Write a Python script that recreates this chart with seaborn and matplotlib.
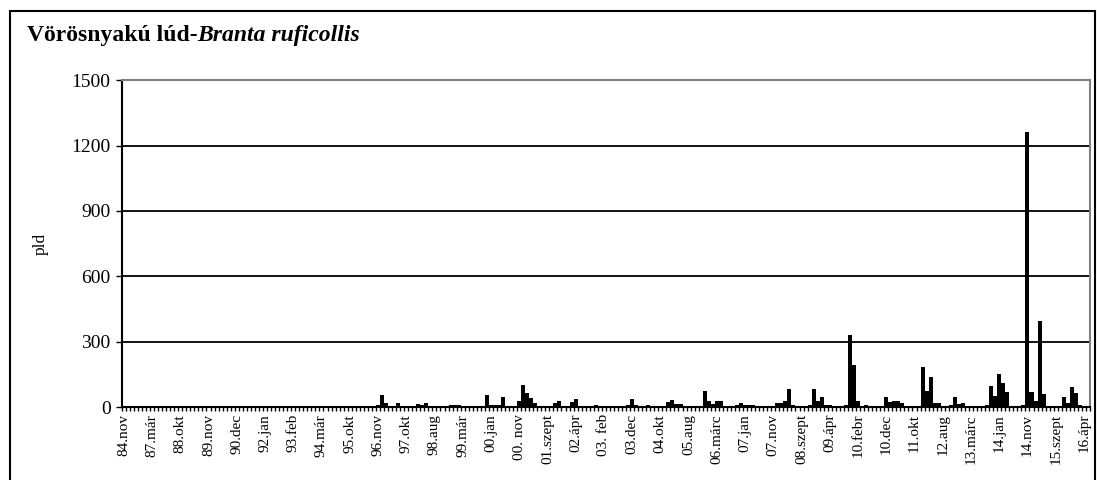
import matplotlib
matplotlib.use("Agg")
import matplotlib.pyplot as plt
from matplotlib.patches import Rectangle
import numpy as np
import pandas as pd
import seaborn as sns

# monthly counts (pld), one bar per survey month, 84.nov .. 16.ápr
counts = [
    0, 0, 0, 0, 0, 0, 0, 0, 0, 0, 0, 0, 0, 0, 0, 0, 0, 5, 0, 0,
    0, 0, 7, 7, 0, 0, 0, 0, 0, 7, 0, 0, 0, 7, 0, 0, 0, 0, 0, 0,
    0, 0, 0, 0, 0, 0, 0, 0, 0, 0, 0, 0, 0, 0, 0, 0, 0, 0, 0, 0,
    0, 0, 0, 10, 55, 20, 0, 0, 18, 0, 0, 0, 0, 15, 8, 18, 0, 0, 0, 0,
    0, 8, 8, 8, 0, 0, 0, 0, 0, 0, 55, 8, 8, 8, 45, 0, 0, 0, 28, 100,
    65, 40, 20, 0, 0, 0, 0, 18, 28, 0, 0, 25, 35, 0, 0, 0, 0, 8, 0, 0,
    0, 0, 0, 0, 0, 10, 38, 10, 0, 0, 8, 0, 0, 0, 0, 22, 33, 12, 12, 0,
    0, 0, 0, 0, 75, 30, 12, 28, 28, 0, 0, 0, 10, 20, 10, 10, 10, 0, 0, 0,
    0, 0, 18, 18, 28, 85, 10, 0, 0, 0, 10, 82, 28, 48, 10, 10, 0, 0, 0, 8,
    330, 195, 30, 0, 10, 0, 0, 0, 0, 48, 22, 28, 28, 20, 0, 0, 0, 0, 185, 75,
    140, 20, 20, 0, 0, 8, 48, 12, 18, 0, 0, 0, 0, 0, 8, 95, 50, 150, 112, 68,
    0, 0, 0, 8, 1260, 68, 30, 395, 58, 0, 0, 0, 0, 45, 20, 92, 66, 8, 0, 0,
]

# every 7th month gets a label
tick_labels = [
    "84.nov", "87.már", "88.okt", "89.nov", "90.dec", "92.jan", "93.feb",
    "94.már", "95.okt", "96.nov", "97.okt", "98.aug", "99.már", "00.jan",
    "00. nov", "01.szept", "02.ápr", "03. feb", "03.dec", "04.okt", "05.aug",
    "06.márc", "07.jan", "07.nov", "08.szept", "09.ápr", "10.febr", "10.dec",
    "11.okt", "12.aug", "13.márc", "14.jan", "14.nov", "15.szept", "16.ápr",
]
y_ticks = [0, 300, 600, 900, 1200, 1500]

sns.set_style("white")
plt.rcParams["font.family"] = ["Liberation Serif", "DejaVu Serif"]
plt.rcParams["text.color"] = "black"
plt.rcParams["axes.labelcolor"] = "black"
plt.rcParams["xtick.color"] = "black"
plt.rcParams["ytick.color"] = "black"

df = pd.DataFrame({"month": np.arange(len(counts)), "pld": counts})

fig = plt.figure(figsize=(10.97, 4.8), dpi=100)
ax = fig.add_axes([0.111, 0.152, 0.8826, 0.681])

sns.barplot(data=df, x="month", y="pld", color="black", saturation=1,
            width=1.0, edgecolor="none", linewidth=0, ax=ax)

ax.set_ylim(0, 1500)
ax.set_yticks(y_ticks)
ax.set_yticklabels([str(v) for v in y_ticks], fontsize=14)
for v in y_ticks[1:-1]:
    ax.axhline(v, color="black", lw=1.3, zorder=0)

n = len(counts)
ax.set_xlim(-0.5, n - 0.5)
ax.set_xticks(np.arange(0, n, 7))
ax.set_xticklabels(tick_labels, rotation=90, fontsize=11)
ax.set_xticks(np.arange(n + 1) - 0.5, minor=True)
ax.tick_params(axis="x", which="major", length=0, pad=5)
ax.tick_params(axis="x", which="minor", direction="out", length=3,
               width=1, color="black", bottom=True)
ax.tick_params(axis="y", direction="out", length=4, width=1,
               color="black", left=True, pad=4)

ax.set_xlabel("")
ax.set_ylabel("pld", fontsize=12.5, labelpad=16)

for side in ["top", "right"]:
    ax.spines[side].set_color("#808080")
    ax.spines[side].set_linewidth(1.5)
for side in ["left", "bottom"]:
    ax.spines[side].set_color("black")
    ax.spines[side].set_linewidth(1.5)

# title: plain bold part followed directly by the italic species name
t1 = fig.text(27 / 1097, 1 - 41 / 480, "Vörösnyakú lúd-", fontsize=17,
              fontweight="bold", ha="left", va="baseline")
fig.canvas.draw()
bb = t1.get_window_extent()
fig.text(bb.x1 / fig.bbox.width, 1 - 41 / 480, "Branta ruficollis",
         fontsize=17, fontweight="bold", style="italic", ha="left",
         va="baseline")

fig.add_artist(Rectangle((10 / 1097, -0.01), 1085 / 1097, 1 - 11 / 480 + 0.01,
                         transform=fig.transFigure, fill=False,
                         edgecolor="black", linewidth=1.5))

fig.savefig("out.png", dpi=100)
